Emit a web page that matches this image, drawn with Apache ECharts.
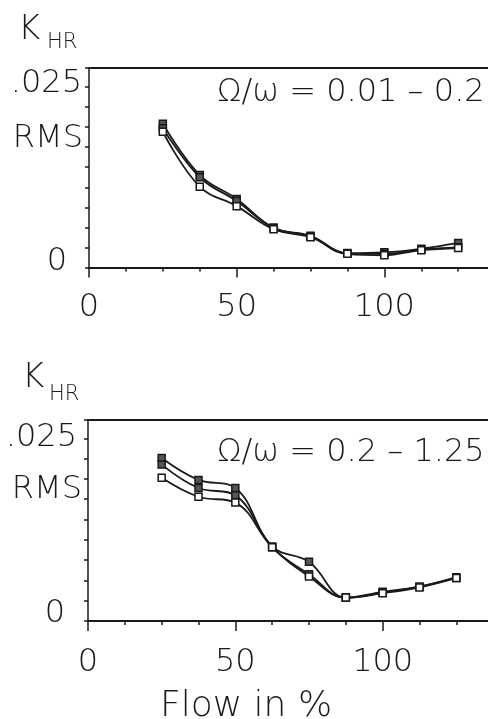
<!DOCTYPE html>
<html>
<head>
<meta charset="utf-8">
<style>
  html, body { margin: 0; padding: 0; background: #ffffff; }
  #chart { width: 488px; height: 719px; }
</style>
<script src="https://cdn.jsdelivr.net/npm/echarts@6/dist/echarts.min.js"></script>
</head>
<body>
<div id="chart"></div>
<script>
// ---- data ----
const flow = [25, 37.5, 50, 62.5, 75, 87.5, 100, 112.5, 125];

// Omega/omega = 0.01 - 0.2 (top panel)
const lowA = [0.0199, 0.0128, 0.0095, 0.0055, 0.0044, 0.0020, 0.0021, 0.0026, 0.0034];
const lowB = [0.0193, 0.0125, 0.0092, 0.0055, 0.0043, 0.0019, 0.0019, 0.0025, 0.0028];
const lowC = [0.0188, 0.0112, 0.0085, 0.0053, 0.0042, 0.0019, 0.0017, 0.0024, 0.0027];

// Omega/omega = 0.2 - 1.25 (bottom panel)
const highA = [0.0223, 0.0193, 0.0182, 0.0102, 0.0081, 0.0032, 0.0040, 0.0047, 0.0060];
const highB = [0.0214, 0.0182, 0.0172, 0.0101, 0.0064, 0.0032, 0.0039, 0.0047, 0.0059];
const highC = [0.0196, 0.0170, 0.0162, 0.0101, 0.0061, 0.0032, 0.0038, 0.0046, 0.0059];

const xTickLabels = [0, 50, 100];
const yTopLabel = '.025';
const yMidLabel = 'RMS';
const yZeroLabel = '0';
const yTopValue = 0.025;
const yStep = 0.025 / 9;

const panelTitles = ['Ω/ω = 0.01 – 0.2', 'Ω/ω = 0.2 – 1.25'];
const yName = 'K';
const ySub = 'HR';
const xName = 'Flow in %';

// ---- chart ----
const FONT = 'DejaVu Sans';
const INK = '#1a1a1a';
const chart = echarts.init(document.getElementById('chart'), null, { renderer: 'canvas' });

function near(a, b) { return Math.abs(a - b) < 1e-7; }

function yLabelFmt(v) {
  if (near(v, 0)) return '{z|' + yZeroLabel + '}';
  if (near(v, yTopValue)) return '{t|' + yTopLabel + '}';
  if (near(v, 6 * yStep)) return '{r|' + yMidLabel + '}';
  return '';
}
function xLabelFmt(v) {
  return xTickLabels.indexOf(v) >= 0 ? String(v) : '';
}

function xAxisCfg(gi, margin) {
  return {
    type: 'value', gridIndex: gi, min: 0, max: 150, interval: 50,
    axisLine: { show: true, lineStyle: { color: INK, width: 2 } },
    axisTick: { show: true, length: 10, lineStyle: { color: INK, width: 1.5 } },
    minorTick: { show: true, splitNumber: 4, length: 4, lineStyle: { color: INK, width: 1.5 } },
    splitLine: { show: false },
    axisLabel: { formatter: xLabelFmt, fontFamily: FONT, fontWeight: 200, fontSize: 32, color: INK, margin: margin }
  };
}
function frameAxisCfg(gi) {
  return {
    type: 'value', gridIndex: gi, position: 'top', min: 0, max: 150,
    axisLine: { show: true, lineStyle: { color: INK, width: 2 } },
    axisTick: { show: false }, axisLabel: { show: false }, splitLine: { show: false }
  };
}
function yAxisCfg(gi, max, rich) {
  return {
    type: 'value', gridIndex: gi, min: 0, max: max, interval: yStep,
    axisLine: { show: true, lineStyle: { color: INK, width: 1.5 } },
    axisTick: { show: true, length: 4, lineStyle: { color: INK, width: 1.5 } },
    splitLine: { show: false },
    axisLabel: { formatter: yLabelFmt, margin: 6, rich: rich }
  };
}
function richSet(tPad, zPad, rPad) {
  const base = { fontFamily: FONT, fontWeight: 200, fontSize: 32, color: INK };
  return {
    t: Object.assign({}, base, { padding: tPad }),
    z: Object.assign({}, base, { padding: zPad }),
    r: Object.assign({}, base, { padding: rPad })
  };
}
function seriesCfg(name, arr, gi, filled) {
  return {
    name: name, type: 'line', xAxisIndex: gi, yAxisIndex: gi,
    data: flow.map((x, i) => [x, arr[i]]),
    smooth: 0.4,
    symbol: 'rect', symbolSize: 7, showSymbol: true,
    lineStyle: { color: INK, width: 1.8 },
    itemStyle: { color: filled ? '#555' : '#ffffff', borderColor: INK, borderWidth: 1.5 },
    z: 3
  };
}

const titleStyle = { fontFamily: FONT, fontWeight: 200, color: INK };

chart.setOption({
  animation: false,
  backgroundColor: '#ffffff',
  title: [
    { text: yName, left: 13, top: 8, textStyle: Object.assign({ fontSize: 34 }, titleStyle) },
    { text: ySub, left: 42, top: 27, textStyle: Object.assign({ fontSize: 21 }, titleStyle) },
    { text: panelTitles[0], left: 212, top: 72, textStyle: Object.assign({ fontSize: 32 }, titleStyle) },
    { text: yName, left: 17, top: 356, textStyle: Object.assign({ fontSize: 34 }, titleStyle) },
    { text: ySub, left: 44, top: 379, textStyle: Object.assign({ fontSize: 21 }, titleStyle) },
    { text: panelTitles[1], left: 212, top: 432, textStyle: Object.assign({ fontSize: 32 }, titleStyle) },
    { text: xName, left: 155, top: 684, textStyle: Object.assign({ fontSize: 36 }, titleStyle) }
  ],
  grid: [
    { left: 89, top: 68, width: 443, height: 199.5, containLabel: false, outerBoundsMode: 'none' },
    { left: 88, top: 420, width: 442, height: 201, containLabel: false, outerBoundsMode: 'none' }
  ],
  xAxis: [xAxisCfg(0, 24), xAxisCfg(1, 26), frameAxisCfg(0), frameAxisCfg(1)],
  yAxis: [
    yAxisCfg(0, 0.027632, richSet([0, 1, 7, 0], [0, 16, 12, 0], [0, 0, 17, 0])),
    yAxisCfg(1, 0.027504, richSet([0, 5, 1, 0], [0, 17, 14, 0], [0, 0, 19, 0]))
  ],
  series: [
    seriesCfg('low A', lowA, 0, true),
    seriesCfg('low B', lowB, 0, true),
    seriesCfg('low C', lowC, 0, false),
    seriesCfg('high A', highA, 1, true),
    seriesCfg('high B', highB, 1, true),
    seriesCfg('high C', highC, 1, false)
  ]
});
</script>
</body>
</html>
